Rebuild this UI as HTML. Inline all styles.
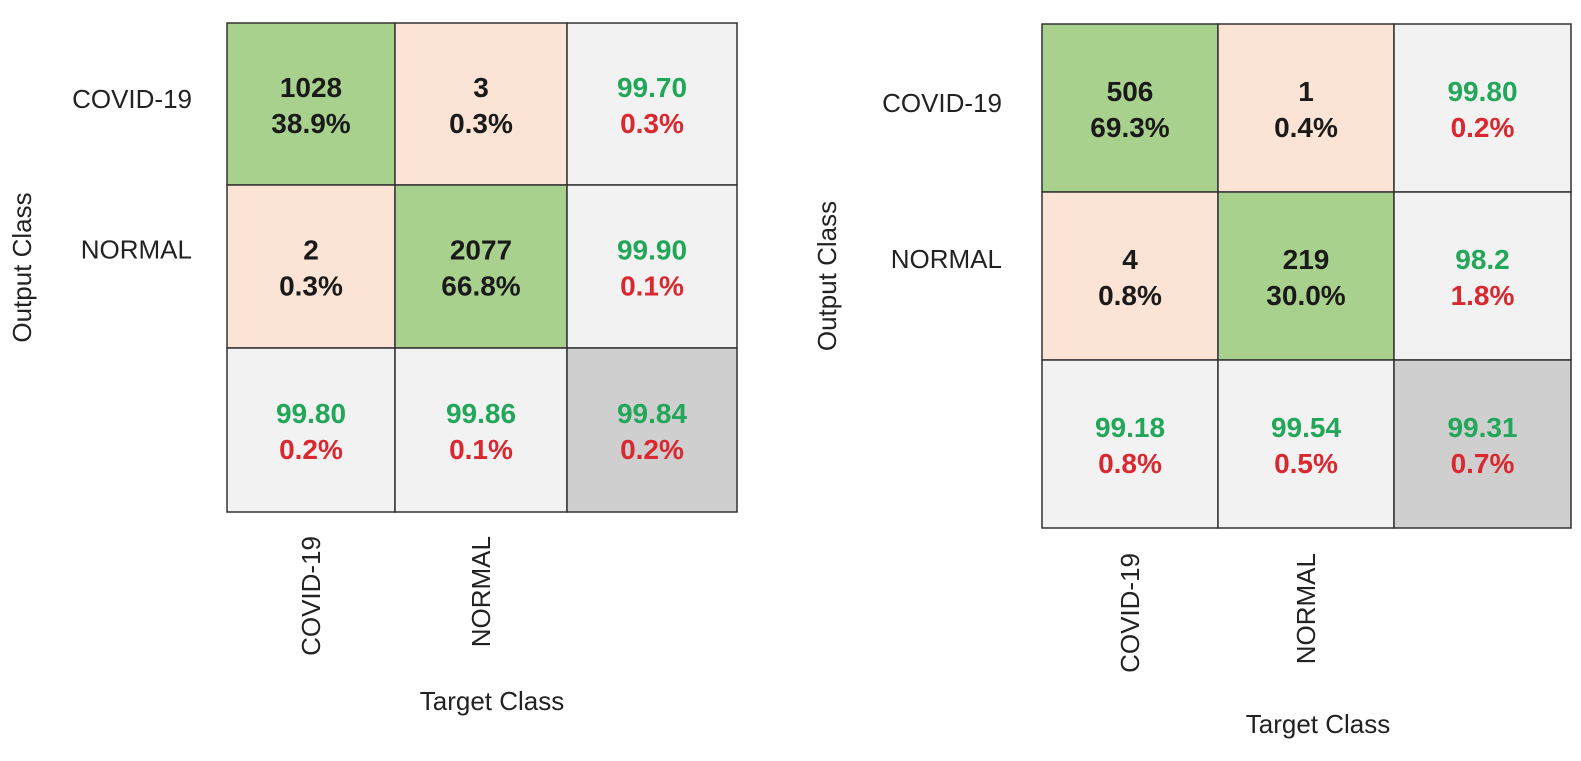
<!DOCTYPE html>
<html><head><meta charset="utf-8"><style>
body{margin:0;background:#fff;width:1581px;height:756px;overflow:hidden;font-family:"Liberation Sans",sans-serif}
svg text{font-family:"Liberation Sans",sans-serif}
</style></head><body>
<svg id="s" width="1581" height="756"></svg>
<script>
const classes=["COVID-19","NORMAL"];
const counts1=[[1028,3],[2,2077]];
const pcts1=[["38.9%","0.3%"],["0.3%","66.8%"]];
const rowAcc1=[["99.70","0.3%"],["99.90","0.1%"]];
const colAcc1=[["99.80","0.2%"],["99.86","0.1%"],["99.84","0.2%"]];
const counts2=[[506,1],[4,219]];
const pcts2=[["69.3%","0.4%"],["0.8%","30.0%"]];
const rowAcc2=[["99.80","0.2%"],["98.2","1.8%"]];
const colAcc2=[["99.18","0.8%"],["99.54","0.5%"],["99.31","0.7%"]];
const NS="http://www.w3.org/2000/svg";
const svg=document.getElementById('s');
function el(t,a,txt){const e=document.createElementNS(NS,t);for(const k in a)e.setAttribute(k,a[k]);if(txt!==undefined)e.textContent=txt;svg.appendChild(e);return e;}
function draw(id,xs,ys,counts,pcts,rowAcc,colAcc,rowLblX,yTitleX,xLblY,xTitle){
  const cell=(r,c,fill,l1,l2,c1,c2,name)=>{
    const x=xs[c],y=ys[r],w=xs[c+1]-xs[c],h=ys[r+1]-ys[r];
    const rc=el('rect',{x:x,y:y,width:w,height:h,fill:fill,stroke:'#333','stroke-width':1.5});
    
    
    const cx=x+w/2,cy=y+h/2;
    const t1=el('text',{x:cx,y:cy-7,'text-anchor':'middle','font-size':28,'font-weight':'bold',fill:c1},l1);
    
    
    const t2=el('text',{x:cx,y:cy+29,'text-anchor':'middle','font-size':28,'font-weight':'bold',fill:c2},l2);
    
    
  };
  for(let r=0;r<2;r++)for(let c=0;c<2;c++)
    cell(r,c,r===c?'#a9d18e':'#fbe4d5',String(counts[r][c]),pcts[r][c],'#1a1a1a','#1a1a1a',id+'-cell-'+r+'-'+c);
  for(let r=0;r<2;r++)cell(r,2,'#f2f2f2',rowAcc[r][0],rowAcc[r][1],'#22a65a','#d9282f',id+'-row-accuracy-'+r);
  for(let c=0;c<3;c++)cell(2,c,c===2?'#cfcfcf':'#f2f2f2',colAcc[c][0],colAcc[c][1],'#22a65a','#d9282f',id+(c===2?'-overall-accuracy':'-col-accuracy-'+c));
  const lblOff=[4,-8];
  for(let r=0;r<2;r++){
    const t=el('text',{x:rowLblX,y:(ys[r]+ys[r+1])/2+lblOff[r],'text-anchor':'end','font-size':26,fill:'#222'},classes[r]);
    
    
  }
  for(let c=0;c<2;c++){
    const cx=(xs[c]+xs[c+1])/2+9;
    const t=el('text',{x:cx,y:xLblY,'text-anchor':'end','font-size':26,fill:'#222',transform:`rotate(-90 ${cx} ${xLblY})`},classes[c]);
    
    
  }
  const my=(ys[0]+ys[3])/2;
  const yt=el('text',{x:yTitleX,y:my,'text-anchor':'middle','font-size':26,fill:'#222',transform:`rotate(-90 ${yTitleX} ${my})`},'Output Class');
  
  
  const xt=el('text',{x:xTitle[0],y:xTitle[1],'text-anchor':'middle','font-size':26,fill:'#222'},'Target Class');
  
  
}
draw('matrix-left',[227,395,567,737],[23,185,348,512],counts1,pcts1,rowAcc1,colAcc1,192,31,536,[492,710]);
draw('matrix-right',[1042,1218,1394,1571],[24,192,360,528],counts2,pcts2,rowAcc2,colAcc2,1002,836,553,[1318,733]);
</script>
</body></html>
